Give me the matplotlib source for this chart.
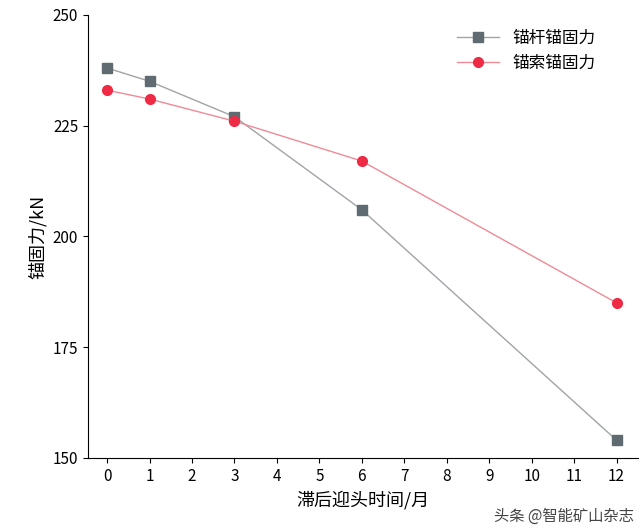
import matplotlib
matplotlib.use("Agg")
import matplotlib.pyplot as plt

months = [0, 1, 3, 6, 12]
bolt = [238, 235, 227, 206, 154]
cable = [233, 231, 226, 217, 185]
xticks = list(range(13))
yticks = [150, 175, 200, 225, 250]

plt.rcParams["font.family"] = "sans-serif"
plt.rcParams["font.sans-serif"] = ["Noto Sans CJK SC", "Noto Sans CJK JP", "Noto Sans CJK TC", "DejaVu Sans"]
fig = plt.figure(figsize=(6.4, 5.3), dpi=100)
ax = fig.add_axes([0.1375, 0.136, 0.859, 0.836])
ax.plot(months, bolt, color="#a0a4a6", lw=1, marker="s", ms=7, mfc="#5f6b70", mec="#5f6b70", label="锚杆锚固力")
ax.plot(months, cable, color="#f08a96", lw=1, marker="o", ms=7, mfc="#ee2a44", mec="#ee2a44", label="锚索锚固力")
ax.set_xlim(-0.45, 12.5)
ax.set_ylim(150, 250)
ax.set_xticks(xticks)
ax.set_yticks(yticks)
ax.spines["top"].set_visible(False)
ax.spines["right"].set_visible(False)
ax.tick_params(labelsize=11)
ax.set_xlabel("滞后迎头时间/月", fontsize=13)
ax.set_ylabel("锚固力/kN", fontsize=13)
ax.legend(loc="upper right", bbox_to_anchor=(0.95, 1.0), frameon=False, fontsize=12, handlelength=2.5)
fig.text(0.99, 0.01, "头条 @智能矿山杂志", ha="right", va="bottom", fontsize=11, color="#444444")
fig.savefig("out.png")
